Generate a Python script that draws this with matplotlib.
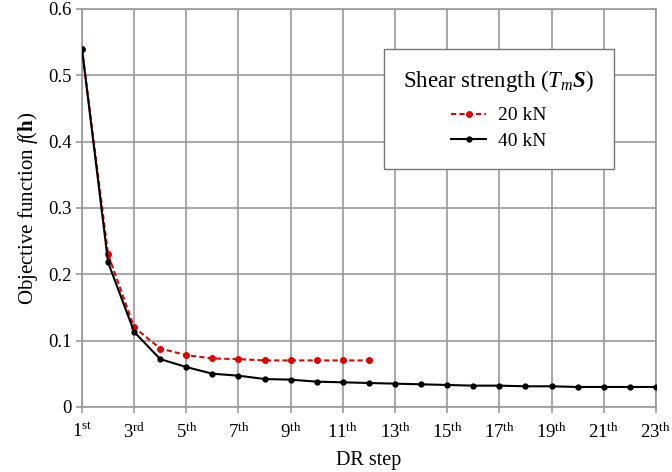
import matplotlib
matplotlib.use("Agg")
from matplotlib import pyplot as plt

plt.rcParams['font.family'] = ['Liberation Serif', 'DejaVu Serif']
plt.rcParams['mathtext.fontset'] = 'custom'
plt.rcParams['mathtext.rm'] = 'Liberation Serif'
plt.rcParams['mathtext.it'] = 'Liberation Serif:italic'
plt.rcParams['mathtext.bf'] = 'Liberation Serif:bold'
plt.rcParams['mathtext.bfit'] = 'Liberation Serif:bold:italic'

# DR steps and objective function values
steps_40 = list(range(1, 24))
f_40 = [0.540, 0.218, 0.113, 0.072, 0.060, 0.050, 0.047, 0.042, 0.041, 0.038, 0.037, 0.036,
        0.035, 0.034, 0.033, 0.032, 0.032, 0.031, 0.031, 0.030, 0.030, 0.030, 0.030]
steps_20 = list(range(1, 13))
f_20 = [0.540, 0.230, 0.120, 0.088, 0.078, 0.073, 0.072, 0.070, 0.070, 0.070, 0.070, 0.070]

tick_pos = [1, 3, 5, 7, 9, 11, 13, 15, 17, 19, 21, 23]
tick_lbl = ['1$^{\\mathrm{st}}$', '3$^{\\mathrm{rd}}$'] + \
    ['%d$^{\\mathrm{th}}$' % n for n in tick_pos[2:]]

fig = plt.figure(figsize=(6.72, 4.72), dpi=100)
ax = fig.add_axes([0.122, 0.138, 0.854, 0.843])

ax.plot(steps_20, f_20, color='#e00000', linestyle=(0, (2.5, 1.5)), linewidth=1.5,
        marker='o', markersize=4, label='20 kN', zorder=3)
ax.plot(steps_40, f_40, color='black', linestyle='-', linewidth=1.5,
        marker='o', markersize=3.5, label='40 kN', zorder=4)

ax.set_xlim(1, 23)
ax.set_ylim(0, 0.6)
ax.set_xticks(tick_pos)
ax.set_xticklabels(tick_lbl)
ax.set_yticks([0, 0.1, 0.2, 0.3, 0.4, 0.5, 0.6])
ax.set_yticklabels(['0', '0.1', '0.2', '0.3', '0.4', '0.5', '0.6'])

ax.grid(True, color='#999999', linewidth=1.2)
ax.set_axisbelow(True)
ax.tick_params(labelsize=13.5, color='#999999', length=4, width=1.2)
ax.tick_params(axis='x', pad=7)
for s in ax.spines.values():
    s.set_color('#999999')
    s.set_linewidth(1.2)

ax.set_xlabel('DR step', fontsize=14.5, labelpad=7)
ax.set_ylabel('Objective function $f(\\mathbf{h})$', fontsize=15, labelpad=6)

leg = ax.legend(title='Shear strength ($T_m\\boldsymbol{S}$)', loc='upper center',
                bbox_to_anchor=(0.7265, 0.9), borderaxespad=0,
                fontsize=14, title_fontsize=16.5,
                fancybox=False, framealpha=1, edgecolor='#777777',
                borderpad=1.0, labelspacing=0.4, handlelength=1.8,
                handletextpad=0.6)
leg.get_frame().set_linewidth(1.0)
leg._legend_box.align = 'center'
leg._legend_box.sep = 9

plt.savefig('out.png', dpi=100)
